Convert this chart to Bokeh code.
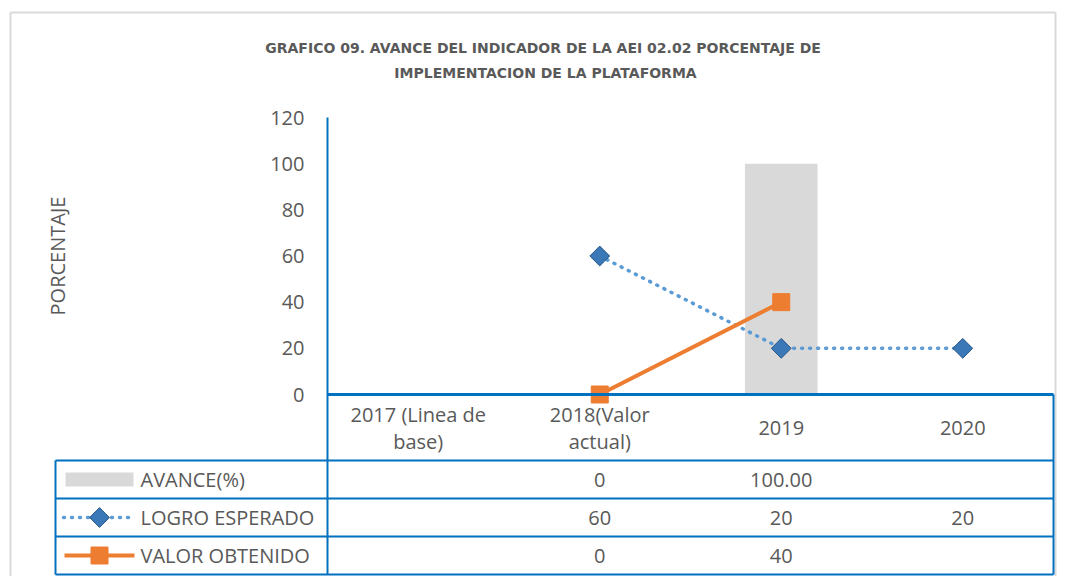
import math
from bokeh.plotting import figure
from bokeh.models import Range1d, FixedTicker
from bokeh.core.properties import value
from bokeh.embed import file_html
from bokeh.resources import INLINE

# ---------------- data ----------------
categories = ["2017 (Linea de\nbase)", "2018(Valor\nactual)", "2019", "2020"]
avance = [None, 0, 100.0, None]
logro = [None, 60, 20, 20]
valor = [None, 0, 40, None]
series = ["AVANCE(%)", "LOGRO ESPERADO", "VALOR OBTENIDO"]
y_ticks = [0, 20, 40, 60, 80, 100, 120]
title_lines = ["GRAFICO 09. AVANCE DEL  INDICADOR DE LA AEI 02.02 PORCENTAJE DE",
               "IMPLEMENTACION DE LA PLATAFORMA"]
y_label = "PORCENTAJE"

# ---------------- layout / style (pixels) ----------------
W, H = 1064, 576
AX_X = 327.0           # px of the value axis
COL_W = 181.5          # px per category column
ZERO_Y = 394.0         # px of value 0
TOP_Y = 117.0          # px of value 120
PX_PER_UNIT = (ZERO_Y - TOP_Y) / 120
TABLE_L, TABLE_R = 55.0, 1053.0
HDR_B = 460.0
ROW_H = 38.0
TXT = "#595959"
BLUE = "#0070c0"
BAR = "#d9d9d9"
FRAME = "#d9d9d9"
LINE_BLUE = "#5b9bd5"
DIAMOND = "#3a78b8"
DIAMOND_EDGE = "#275684"
ORANGE = "#ed7d31"
FONT = "Open Sans"
TITLE_FONT = "DejaVu Sans"
FS = "20px"

n = len(categories)
xs = list(range(n))


def X(px):
    return -0.5 + (px - AX_X) / COL_W


def Y(py):
    return (ZERO_Y - py) / PX_PER_UNIT


p = figure(width=W, height=H, x_range=Range1d(X(0), X(W)),
           y_range=Range1d(Y(H), Y(0)), output_backend="svg",
           toolbar_location=None, title=None, min_border=0,
           min_border_left=0, min_border_right=0, min_border_top=0,
           min_border_bottom=0)
p.outline_line_color = None
p.grid.visible = False
p.xaxis.visible = False

# value axis, drawn at the left edge of the category area
yax = p.yaxis[0]
yax.fixed_location = -0.5
yax.bounds = (Y(H - 2), max(y_ticks))
yax.ticker = FixedTicker(ticks=y_ticks)
yax.major_label_text_font = FONT
yax.major_label_text_font_size = FS
yax.major_label_text_color = TXT
yax.major_tick_in = 0
yax.major_tick_out = 0
yax.minor_tick_line_color = None
yax.major_label_standoff = 23
yax.axis_line_color = BLUE
yax.axis_line_width = 2

# outer chart-area border
p.segment(x0=[X(10), X(10), X(1055)], y0=[Y(H), Y(12), Y(12)],
          x1=[X(10), X(1055), X(1055)], y1=[Y(12), Y(12), Y(H)],
          line_color=FRAME, line_width=2)

# title
for py, t in zip([47, 72], title_lines):
    p.text(x=[X(545)], y=[Y(py)], text=[t], text_align="center",
           text_baseline="middle", text_font=value(TITLE_FONT), text_font_size="14px",
           text_font_style="bold", text_color=TXT)

# axis title
p.text(x=[X(57)], y=[(max(y_ticks) + min(y_ticks)) / 2], text=[y_label], angle=math.pi / 2,
       text_align="center", text_baseline="middle", text_font=value(FONT),
       text_font_size=FS, text_color=TXT)

# bars
bx = [x for x, v in zip(xs, avance) if v is not None]
bv = [v for v in avance if v is not None]
p.vbar(x=bx, top=bv, bottom=0, width=0.4, fill_color=BAR, line_color=None)

# LOGRO ESPERADO
lx = [x for x, v in zip(xs, logro) if v is not None]
lv = [v for v in logro if v is not None]
p.line(lx, lv, line_color=LINE_BLUE, line_width=3.5, line_dash="1 7", line_cap="round")
p.scatter(lx, lv, marker="square", angle=math.pi / 4, size=14,
          fill_color=DIAMOND, line_color=DIAMOND_EDGE, line_width=1)

# VALOR OBTENIDO
vx = [x for x, v in zip(xs, valor) if v is not None]
vv = [v for v in valor if v is not None]
p.line(vx, vv, line_color=ORANGE, line_width=4)
p.scatter(vx, vv, marker="square", size=17, fill_color=ORANGE, line_color=ORANGE)

# ---------------- data table ----------------
row_b = [HDR_B + ROW_H * (i + 1) for i in range(3)]
p.segment(x0=[-0.5], y0=[0], x1=[X(TABLE_R)], y1=[0], line_color=BLUE, line_width=3)
hl = [HDR_B] + row_b
p.segment(x0=[X(TABLE_L)] * len(hl), y0=[Y(v) for v in hl],
          x1=[X(TABLE_R)] * len(hl), y1=[Y(v) for v in hl],
          line_color=BLUE, line_width=2)
p.segment(x0=[X(TABLE_L), X(TABLE_R)], y0=[Y(HDR_B), 0],
          x1=[X(TABLE_L), X(TABLE_R)], y1=[Y(row_b[-1]), Y(row_b[-1])],
          line_color=BLUE, line_width=2)

text_kw = dict(text_font=value(FONT), text_font_size=FS, text_color=TXT,
               text_baseline="middle")

# header row (categories)
p.text(x=xs, y=[Y((ZERO_Y + HDR_B) / 2)] * n, text=categories, text_align="center",
       text_line_height=1.0, **text_kw)

row_c = [Y(HDR_B + ROW_H * (i + 0.5)) for i in range(3)]


def fmt_avance(v):
    if v is None:
        return ""
    return "0" if v == 0 else f"{v:.2f}"


def fmt(v):
    return "" if v is None else f"{v:g}"


p.text(x=xs, y=[row_c[0]] * n, text=[fmt_avance(v) for v in avance], text_align="center", **text_kw)
p.text(x=xs, y=[row_c[1]] * n, text=[fmt(v) for v in logro], text_align="center", **text_kw)
p.text(x=xs, y=[row_c[2]] * n, text=[fmt(v) for v in valor], text_align="center", **text_kw)

# legend keys in the table's first column
p.rect(x=[X(99)], y=[row_c[0]], width=68, height=14, width_units="screen",
       height_units="screen", fill_color=BAR, line_color=None)
p.segment(x0=[X(63)], y0=[row_c[1]], x1=[X(132)], y1=[row_c[1]],
          line_color=LINE_BLUE, line_width=3.5, line_dash="1 7", line_cap="round")
p.scatter([X(99)], [row_c[1]], marker="square", angle=math.pi / 4, size=14,
          fill_color=DIAMOND, line_color=DIAMOND_EDGE, line_width=1)
p.segment(x0=[X(64)], y0=[row_c[2]], x1=[X(134)], y1=[row_c[2]],
          line_color=ORANGE, line_width=4)
p.scatter([X(99)], [row_c[2]], marker="square", size=17, fill_color=ORANGE, line_color=ORANGE)
p.text(x=[X(140)] * 3, y=row_c, text=series, text_align="left", **text_kw)

open("out.html", "w").write(file_html(p, INLINE))
